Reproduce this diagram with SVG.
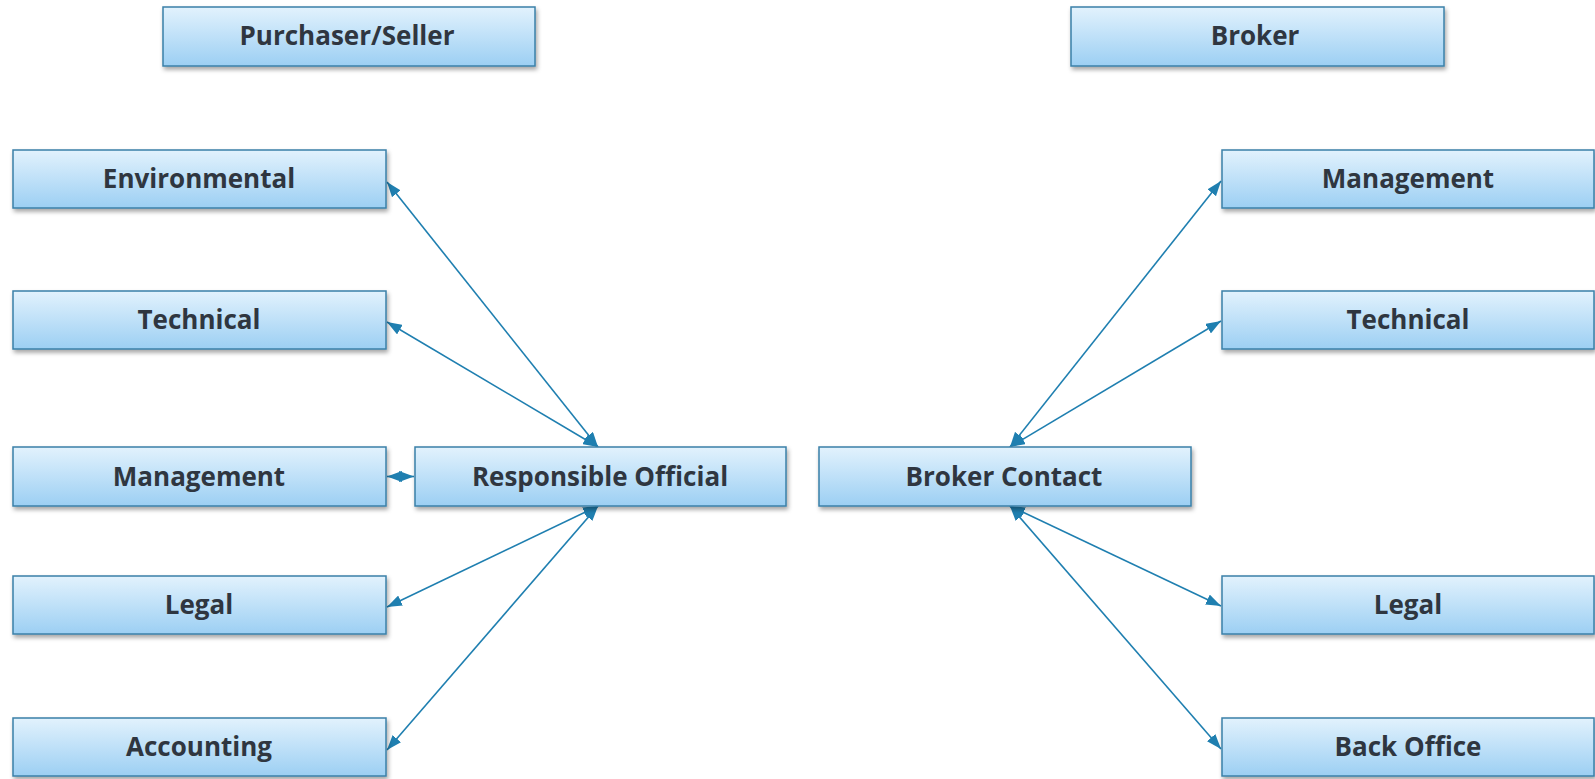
<svg xmlns="http://www.w3.org/2000/svg" width="1595" height="779" viewBox="0 0 1595 779">
  <defs>
    <linearGradient id="boxGrad" x1="0" y1="0" x2="0" y2="1">
      <stop offset="0" stop-color="#e2f2fd"/>
      <stop offset="1" stop-color="#9ccff3"/>
    </linearGradient>
    <filter id="shadow" x="-5%" y="-20%" width="112%" height="160%">
      <feDropShadow dx="1.5" dy="3" stdDeviation="2" flood-color="#000" flood-opacity="0.35"/>
    </filter>
    <marker id="arrow" viewBox="0 0 15 11" refX="15" refY="5.5" markerWidth="15" markerHeight="11" markerUnits="userSpaceOnUse" orient="auto-start-reverse">
      <path d="M0,0 L15,5.5 L0,11 z" fill="#1f7fb0"/>
    </marker>
  </defs>
  <style>
    .box rect { fill: url(#boxGrad); stroke: #3a80a8; stroke-width: 1.5; filter: url(#shadow); }
    .box text { font-family: "Open Sans", Lato, "Liberation Sans", sans-serif; font-weight: bold; font-size: 26px; fill: #2f3640; text-anchor: middle; }
    .conn line { stroke: #1f7fb0; stroke-width: 1.6; marker-start: url(#arrow); marker-end: url(#arrow); }
  </style>

  <g id="connectors" class="conn">
    <line x1="387" y1="182" x2="598" y2="447"/>
    <line x1="387" y1="322" x2="598" y2="447"/>
    <line x1="387" y1="607" x2="598" y2="506"/>
    <line x1="387" y1="750" x2="598" y2="506"/>
    <line x1="387" y1="476.5" x2="414" y2="476.5"/>
    <line x1="1221" y1="181" x2="1010" y2="447"/>
    <line x1="1221" y1="321" x2="1010" y2="447"/>
    <line x1="1221" y1="606" x2="1010" y2="506"/>
    <line x1="1221" y1="749" x2="1010" y2="506"/>
  </g>

  <g id="purchaser-seller" class="box">
    <rect x="163" y="7" width="372" height="59"/>
    <text x="347" y="45">Purchaser/Seller</text>
  </g>
  <g id="broker" class="box">
    <rect x="1071" y="7" width="373" height="59"/>
    <text x="1255" y="45">Broker</text>
  </g>

  <g id="left-environmental" class="box">
    <rect x="13" y="150" width="373" height="58"/>
    <text x="199" y="188">Environmental</text>
  </g>
  <g id="left-technical" class="box">
    <rect x="13" y="291" width="373" height="58"/>
    <text x="199" y="329">Technical</text>
  </g>
  <g id="left-management" class="box">
    <rect x="13" y="447" width="373" height="59"/>
    <text x="199" y="486">Management</text>
  </g>
  <g id="left-legal" class="box">
    <rect x="13" y="576" width="373" height="58"/>
    <text x="199" y="614">Legal</text>
  </g>
  <g id="left-accounting" class="box">
    <rect x="13" y="718" width="373" height="58"/>
    <text x="199" y="756">Accounting</text>
  </g>

  <g id="responsible-official" class="box">
    <rect x="415" y="447" width="371" height="59"/>
    <text x="600" y="486">Responsible Official</text>
  </g>
  <g id="broker-contact" class="box">
    <rect x="819" y="447" width="372" height="59"/>
    <text x="1004" y="486">Broker Contact</text>
  </g>

  <g id="right-management" class="box">
    <rect x="1222" y="150" width="372" height="58"/>
    <text x="1408" y="188">Management</text>
  </g>
  <g id="right-technical" class="box">
    <rect x="1222" y="291" width="372" height="58"/>
    <text x="1408" y="329">Technical</text>
  </g>
  <g id="right-legal" class="box">
    <rect x="1222" y="576" width="372" height="58"/>
    <text x="1408" y="614">Legal</text>
  </g>
  <g id="right-back-office" class="box">
    <rect x="1222" y="718" width="372" height="58"/>
    <text x="1408" y="756">Back Office</text>
  </g>
</svg>
